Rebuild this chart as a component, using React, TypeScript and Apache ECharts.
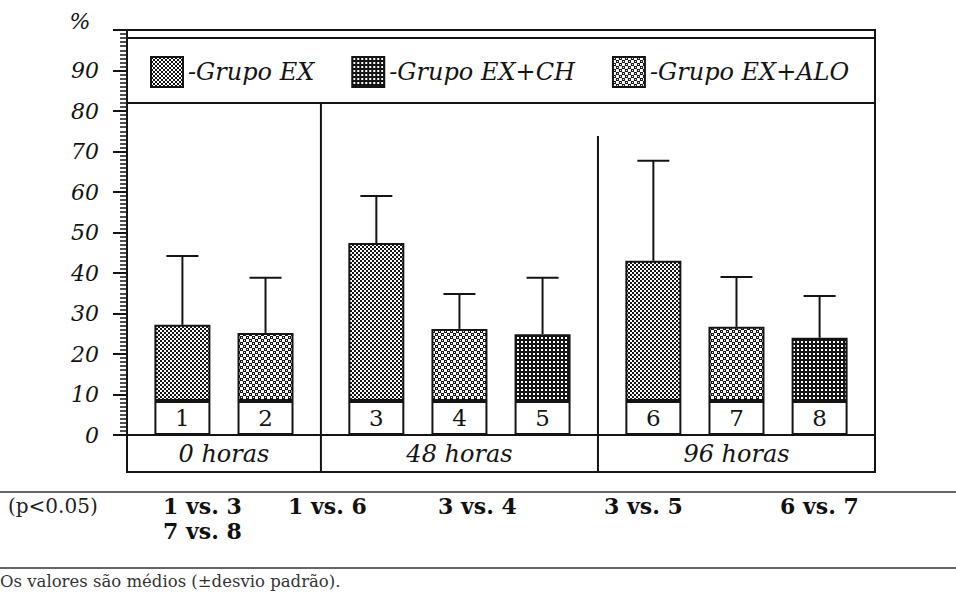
import React, { useEffect, useRef } from "react";
import * as echarts from "echarts";

// ---- data ----
const barNumbers = ["1", "2", "3", "4", "5", "6", "7", "8"];
const timeGroups = ["0 horas", "48 horas", "96 horas"];
const barTime = [0, 0, 1, 1, 1, 2, 2, 2];
const groupNames = ["Grupo EX", "Grupo EX+CH", "Grupo EX+ALO"];
const barGroup = ["Grupo EX", "Grupo EX+ALO", "Grupo EX", "Grupo EX+ALO", "Grupo EX+CH", "Grupo EX", "Grupo EX+ALO", "Grupo EX+CH"];
const means = [27.2, 25.2, 47.4, 26.2, 24.9, 43.0, 26.7, 24.0];
const sds = [17.0, 13.6, 11.6, 8.6, 13.9, 24.7, 12.3, 10.3];
const baseValue = 8.4;
const yTickValues = [0, 10, 20, 30, 40, 50, 60, 70, 80, 90, 100];
const pLabel = "(p<0.05)";
const comparisons = ["1 vs. 3", "1 vs. 6", "3 vs. 4", "3 vs. 5", "6 vs. 7", "7 vs. 8"];
const footnote = "Os valores são médios (±desvio padrão).";

// ---- layout helpers (slots on a category axis) ----
const SLOT_COUNT = 28;
const slotOf = (i: number) => 2 + 3 * i + barTime[i];
const INK = "#141414";

function makePattern(size: number, bg: string, fg: string, rects: number[][], holes: number[][] = []) {
  const c = document.createElement("canvas");
  c.width = size;
  c.height = size;
  const ctx = c.getContext("2d")!;
  ctx.fillStyle = bg;
  ctx.fillRect(0, 0, size, size);
  ctx.fillStyle = fg;
  rects.forEach((r) => ctx.fillRect(r[0], r[1], r[2], r[3]));
  ctx.fillStyle = bg;
  holes.forEach((r) => ctx.fillRect(r[0], r[1], r[2], r[3]));
  return { image: c, repeat: "repeat", imageWidth: size, imageHeight: size } as any;
}

export default function App() {
  const ref = useRef<HTMLDivElement>(null);
  useEffect(() => {
    if (!ref.current) return;
    const chart = echarts.init(ref.current, null, { renderer: "svg" });

    const patterns: Record<string, any> = {
      "Grupo EX": makePattern(4, "#ffffff", INK, [[0, 0, 2, 2], [2, 2, 2, 2]]),
      "Grupo EX+CH": makePattern(4, INK, "#ffffff", [[1, 1, 2, 2]]),
      "Grupo EX+ALO": makePattern(6, "#ffffff", INK, [[0, 0, 3, 3], [3, 3, 3, 3]], [[1, 1, 1, 1], [4, 4, 1, 1]]),
    };

    const slots = Array.from({ length: SLOT_COUNT }, (_, i) => String(i));
    const empty = () => Array.from({ length: SLOT_COUNT }, () => "-" as any);

    const baseData = empty();
    barNumbers.forEach((n, i) => {
      baseData[slotOf(i)] = { value: baseValue, name: n };
    });

    const barStyle = { borderColor: INK, borderWidth: 2 };

    const groupSeries = groupNames.map((g) => {
      const d = empty();
      means.forEach((m, i) => {
        if (barGroup[i] === g) d[slotOf(i)] = m - baseValue;
      });
      return {
        name: g,
        type: "bar",
        stack: "a",
        barWidth: 56,
        data: d,
        silent: true,
        itemStyle: { color: patterns[g], ...barStyle },
      };
    });

    const errData = means.map((m, i) => [slotOf(i), m, m + sds[i]]);

    chart.setOption({
      animation: false,
      grid: { left: 127, right: 81, top: 30, bottom: 160, show: true, borderColor: INK, borderWidth: 2, backgroundColor: "transparent" },
      legend: {
        data: groupNames,
        left: 145,
        top: 51,
        itemWidth: 32,
        itemHeight: 30,
        itemGap: 37,
        icon: "rect",
        selectedMode: false,
        formatter: "-{name}",
        itemStyle: { borderColor: INK, borderWidth: 2 },
        textStyle: { fontFamily: "DejaVu Serif", fontStyle: "italic", fontSize: 24, color: INK },
      },
      xAxis: {
        type: "category",
        data: slots,
        boundaryGap: false,
        axisLine: { show: true, lineStyle: { color: INK, width: 2 } },
        axisTick: { show: false },
        axisLabel: { show: false },
        splitLine: { show: false },
      },
      yAxis: {
        type: "value",
        min: yTickValues[0],
        max: yTickValues[yTickValues.length - 1],
        interval: 10,
        axisLine: { show: true, lineStyle: { color: INK, width: 2 } },
        axisTick: { show: true, length: 14, lineStyle: { color: INK, width: 2 } },
        minorTick: { show: true, splitNumber: 10, length: 7, lineStyle: { color: INK, width: 1.5 } },
        splitLine: { show: false },
        axisLabel: {
          margin: 28,
          fontFamily: "DejaVu Serif",
          fontStyle: "italic",
          fontSize: 22,
          color: INK,
          formatter: (v: number) => (v === 100 ? "" : String(v)),
        },
      },
      series: [
        {
          name: "base",
          type: "bar",
          stack: "a",
          barWidth: 56,
          data: baseData,
          silent: true,
          itemStyle: { color: "#ffffff", ...barStyle },
          label: {
            show: true,
            position: "inside",
            formatter: (p: any) => p.name || "",
            fontFamily: "DejaVu Serif",
            fontSize: 23,
            color: INK,
          },
        },
        ...groupSeries,
        {
          name: "sd",
          type: "custom",
          silent: true,
          data: errData,
          encode: { x: 0, y: [1, 2] },
          renderItem: (_params: any, api: any) => {
            const x = api.value(0);
            const lo = api.coord([x, api.value(1)]);
            const hi = api.coord([x, api.value(2)]);
            const st = { stroke: INK, lineWidth: 2 };
            return {
              type: "group",
              children: [
                { type: "line", shape: { x1: lo[0], y1: lo[1], x2: hi[0], y2: hi[1] }, style: st },
                { type: "line", shape: { x1: hi[0] - 16, y1: hi[1], x2: hi[0] + 16, y2: hi[1] }, style: st },
              ],
            };
          },
        },
      ],
    });

    // frame / group boxes drawn from axis pixels
    const px = (slot: number, v: number) => chart.convertToPixel({ gridIndex: 0 }, [slot, v]) as number[];
    const [xL, yAxis0] = px(0, 0);
    const xR = px(SLOT_COUNT - 1, 0)[0];
    const yTop = px(0, 100)[1];
    const legendTop = yTop + 8;
    const legendBottom = px(0, 82)[1];
    const boxBottom = yAxis0 + 37;
    const sep1 = px(slotOf(1) + 2, 0)[0];
    const sep2 = px(slotOf(4) + 2, 0)[0];
    const sep2Top = px(0, 73.8)[1];
    const ls = { stroke: INK, lineWidth: 2 };
    const line = (x1: number, y1: number, x2: number, y2: number) => ({ type: "line", silent: true, shape: { x1, y1, x2, y2 }, style: ls });
    const mids = [(xL + sep1) / 2, (sep1 + sep2) / 2, (sep2 + xR) / 2];
    const W = 956;
    const compX = [163, 288, 438, 604, 780, 163];
    const compY = [506, 506, 506, 506, 506, 531];

    chart.setOption({
      graphic: [
        line(xL, legendTop, xR, legendTop),
        line(xL, legendBottom, xR, legendBottom),
        line(sep1, legendBottom, sep1, boxBottom),
        line(sep2, sep2Top, sep2, boxBottom),
        line(xL, yAxis0, xL, boxBottom),
        line(xR, yAxis0, xR, boxBottom),
        line(xL - 1, boxBottom, xR + 1, boxBottom),
        ...timeGroups.map((t, i) => ({
          type: "text",
          x: mids[i],
          y: yAxis0 + 19,
          style: { text: t, fontFamily: "DejaVu Serif", fontStyle: "italic", fontSize: 24, fill: INK, align: "center", verticalAlign: "middle" },
        })),
        {
          type: "text",
          x: 80,
          y: 21,
          style: { text: "%", fontFamily: "DejaVu Serif", fontStyle: "italic", fontSize: 22, fill: INK, align: "center", verticalAlign: "middle" },
        },
        { type: "line", shape: { x1: 0, y1: 492, x2: W, y2: 492 }, style: { stroke: "#333", lineWidth: 1.5 } },
        { type: "line", shape: { x1: 0, y1: 568, x2: W, y2: 568 }, style: { stroke: "#333", lineWidth: 1.5 } },
        {
          type: "text",
          x: 8,
          y: 506,
          style: { text: pLabel, fontFamily: "DejaVu Serif", fontSize: 20, fill: "#222", verticalAlign: "middle" },
        },
        ...comparisons.map((c, i) => ({
          type: "text",
          x: compX[i],
          y: compY[i],
          style: { text: c, fontFamily: "DejaVu Serif", fontWeight: "bold", fontSize: 22, fill: "#111", verticalAlign: "middle" },
        })),
        {
          type: "text",
          x: 0,
          y: 581,
          style: { text: footnote, fontFamily: "DejaVu Serif", fontSize: 16.5, fill: "#333", verticalAlign: "middle" },
        },
      ],
    });

    return () => chart.dispose();
  }, []);

  return <div ref={ref} style={{ position: "fixed", left: 0, top: 0, width: 956, height: 595, background: "#fff" }} />;
}
